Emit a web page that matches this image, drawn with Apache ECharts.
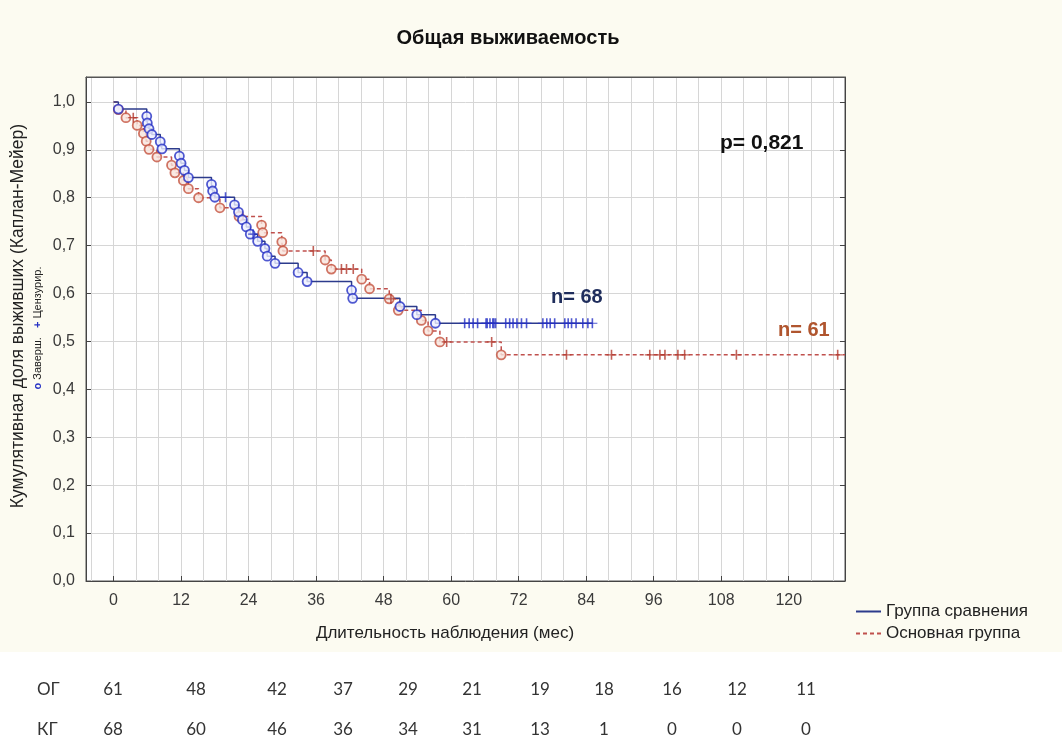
<!DOCTYPE html>
<html>
<head>
<meta charset="utf-8">
<script src="https://cdn.jsdelivr.net/npm/echarts@6/dist/echarts.min.js"></script>
<style>
  html, body { margin: 0; padding: 0; background: #ffffff; }
  #chart { width: 1062px; height: 742px; }
</style>
</head>
<body>
<div id="chart"></div>
<script>
// Kaplan–Meier overall survival, two groups (months of follow-up)

// Группа сравнения (КГ, n = 68): completed observations (month, cumulative survival after the event)
const blueEventMonths = [0.85, 5.9, 6.0, 6.3, 6.8, 8.3, 8.6, 11.7, 12.0, 12.6, 13.3, 17.4, 17.6, 18.0,
  21.5, 22.2, 22.9, 23.6, 24.3, 25.6, 26.9, 27.3, 28.7, 32.8, 34.4, 42.3, 42.5, 50.9, 53.9, 57.2];
const blueEventSurv = [0.985, 0.970, 0.956, 0.944, 0.932, 0.917, 0.902, 0.887, 0.872, 0.857, 0.842, 0.828, 0.814, 0.801,
  0.785, 0.770, 0.754, 0.739, 0.724, 0.709, 0.694, 0.678, 0.663, 0.644, 0.625, 0.607, 0.590, 0.573, 0.556, 0.538];
// censored observations (month)
const blueCensorMonths = [19.9, 24.8, 62.4, 63.2, 63.9, 64.7, 66.2, 66.4, 66.9, 67.4, 67.6, 67.9, 69.7, 70.4, 71.0,
  71.7, 72.5, 73.4, 76.3, 77.0, 77.6, 78.4, 80.2, 80.8, 81.4, 82.2, 83.4, 84.3, 85.1];
const blueFollowUpEnd = 85.1;

// Основная группа (ОГ, n = 61)
const redEventMonths = [0.85, 2.2, 4.2, 5.3, 5.8, 6.3, 7.7, 10.3, 10.9, 12.4, 13.3, 15.1, 18.9, 22.3,
  26.3, 26.5, 29.9, 30.1, 37.6, 38.7, 44.1, 45.5, 49.0, 50.6, 54.7, 55.9, 58.0, 68.9];
const redEventSurv = [0.984, 0.967, 0.951, 0.934, 0.918, 0.901, 0.885, 0.868, 0.852, 0.836, 0.819, 0.800, 0.779, 0.761,
  0.743, 0.727, 0.708, 0.689, 0.670, 0.651, 0.630, 0.610, 0.589, 0.565, 0.544, 0.522, 0.499, 0.472];
const redCensorMonths = [3.5, 35.5, 40.5, 41.4, 42.6, 49.3, 59.2, 67.2, 80.5, 88.5, 95.3, 97.1, 98.0,
  100.3, 101.5, 110.7, 128.7];
const redFollowUpEnd = 130;

// axis ticks
const monthTicks = [0, 12, 24, 36, 48, 60, 72, 84, 96, 108, 120];
const monthGrid = [-4, 0, 4, 8, 12, 16, 20, 24, 28, 32, 36, 40, 44, 48, 52, 56, 60, 64, 68, 72, 76, 80,
  84, 88, 92, 96, 100, 104, 108, 112, 116, 120, 124, 128];
const survTicks = [0, 0.1, 0.2, 0.3, 0.4, 0.5, 0.6, 0.7, 0.8, 0.9, 1.0];

// number at risk
const riskRowLabels = ['ОГ', 'КГ'];
const riskOG = [61, 48, 42, 37, 29, 21, 19, 18, 16, 12, 11];
const riskKG = [68, 60, 46, 36, 34, 31, 13, 1, 0, 0, 0];

const pValueText = 'p= 0,821';
const nBlueText = 'n= 68';
const nRedText = 'n= 61';

// ---- helpers ----
function stepCurve(months, surv, end) {
  const pts = [[0, 1]];
  for (let i = 0; i < months.length; i++) pts.push([months[i], surv[i]]);
  pts.push([end, surv[surv.length - 1]]);
  return pts;
}
function survivalAt(months, surv, t) {
  let s = 1;
  for (let i = 0; i < months.length; i++) { if (months[i] <= t) s = surv[i]; }
  return s;
}
const pairs = (a, b) => a.map((v, i) => [v, b[i]]);
const censorPoints = (cm, em, es) => cm.map(t => [t, survivalAt(em, es, t)]);

const BLUE_LINE = '#2c3b8c';
const BLUE_MARK = '#2430c4';
const RED_LINE = '#c0504d';
const RED_MARK = '#c4523f';
const PLUS = 'path://M-0.8,-5H0.8V5H-0.8Z M-5,-0.6H5V0.6H-5Z';
const AXIS_FONT = "'Liberation Sans', Arial, sans-serif";
const TABLE_FONT = "Lato, 'Liberation Sans', sans-serif";

const chart = echarts.init(document.getElementById('chart'), null, { renderer: 'canvas' });

// layout of the number-at-risk table
const riskColX = [113, 196, 277, 343, 408, 472, 540, 604, 672, 737, 806];
const riskRowY = [690, 730];

const graphics = [
  { type: 'rect', shape: { x: 0, y: 0, width: 1062, height: 652 }, style: { fill: '#fcfbf1' }, z: -10, silent: true },
  { type: 'text', z: 50, x: 508, y: 38, style: { text: 'Общая выживаемость', font: "bold 20px " + AXIS_FONT, fill: '#111', align: 'center', verticalAlign: 'middle' } },
  { type: 'text', z: 50, x: 445, y: 633, style: { text: 'Длительность наблюдения (мес)', font: "17px " + AXIS_FONT, fill: '#222', align: 'center', verticalAlign: 'middle' } },
  { type: 'text', z: 50, x: 18, y: 316, rotation: Math.PI / 2, style: { text: 'Кумулятивная доля выживших (Каплан-Мейер)', font: "17.5px " + AXIS_FONT, fill: '#222', align: 'center', verticalAlign: 'middle' } },
  { type: 'text', z: 50, x: 38, y: 328, rotation: Math.PI / 2,
    style: { text: '{m|о} Заверш.   {m|+} Цензурир.', font: "11px " + AXIS_FONT, fill: '#222', align: 'center', verticalAlign: 'middle',
      rich: { m: { fill: BLUE_MARK, font: "bold 11px " + AXIS_FONT } } } },
  { type: 'text', z: 50, x: 720, y: 143, style: { text: pValueText, font: "bold 21px " + AXIS_FONT, fill: '#111', verticalAlign: 'middle' } },
  { type: 'text', z: 50, x: 551, y: 297, style: { text: nBlueText, font: "bold 20px " + AXIS_FONT, fill: '#1f2d5c', verticalAlign: 'middle' } },
  { type: 'text', z: 50, x: 778, y: 330, style: { text: nRedText, font: "bold 20px " + AXIS_FONT, fill: '#b0552e', verticalAlign: 'middle' } }
];
[riskOG, riskKG].forEach((row, r) => {
  graphics.push({ type: 'text', z: 50, x: 37, y: riskRowY[r], style: { text: riskRowLabels[r], font: "17px " + TABLE_FONT, fill: '#333', verticalAlign: 'middle' } });
  row.forEach((v, i) => {
    graphics.push({ type: 'text', z: 50, x: riskColX[i], y: riskRowY[r], style: { text: String(v), font: "17px " + TABLE_FONT, fill: '#333', align: 'center', verticalAlign: 'middle' } });
  });
});

const fmtSurv = v => v.toFixed(1).replace('.', ',');

chart.setOption({
  backgroundColor: 'transparent',
  animation: false,
  grid: { left: 86, right: 217, top: 77, bottom: 161, show: true, backgroundColor: '#ffffff', borderColor: '#555555', borderWidth: 1, containLabel: false },
  xAxis: [
    {
      type: 'value', position: 'bottom', min: -4.9, max: 130,
      axisLine: { show: true, onZero: false, lineStyle: { color: '#444', width: 1 } },
      axisTick: { show: true, inside: true, length: 5, customValues: monthTicks, lineStyle: { color: '#444' } },
      axisLabel: { customValues: monthTicks, margin: 12, fontFamily: AXIS_FONT, fontSize: 16, color: '#3a3a3a' },
      splitLine: { show: false }
    },
    {
      type: 'value', position: 'top', min: -4.9, max: 130,
      axisLine: { show: true, onZero: false, lineStyle: { color: '#555', width: 1 } },
      axisTick: { show: false, customValues: monthGrid },
      axisLabel: { show: false },
      splitLine: { show: true, lineStyle: { color: '#d6d6d6', width: 1 } }
    }
  ],
  yAxis: [
    {
      type: 'value', position: 'left', min: 0, max: 1.052,
      axisLine: { show: true, onZero: false, lineStyle: { color: '#444', width: 1 } },
      axisTick: { show: true, inside: true, length: 5, customValues: survTicks, lineStyle: { color: '#444' } },
      axisLabel: { customValues: survTicks, formatter: fmtSurv, margin: 11, fontFamily: AXIS_FONT, fontSize: 16, color: '#3a3a3a' },
      splitLine: { show: true, lineStyle: { color: '#d6d6d6', width: 1 } }
    },
    {
      type: 'value', position: 'right', min: 0, max: 1.052,
      axisLine: { show: true, onZero: false, lineStyle: { color: '#444', width: 1 } },
      axisTick: { show: true, inside: true, length: 5, customValues: survTicks, lineStyle: { color: '#444' } },
      axisLabel: { show: false },
      splitLine: { show: false }
    }
  ],
  legend: {
    orient: 'vertical', left: 850, top: 598, itemWidth: 25, itemHeight: 10, itemGap: 5,
    itemStyle: { color: 'transparent', borderColor: 'transparent', borderWidth: 0 },
    textStyle: { fontFamily: AXIS_FONT, fontSize: 17, color: '#222' },
    data: ['Группа сравнения', 'Основная группа']
  },
  graphic: graphics,
  series: [
    {
      name: 'Группа сравнения', type: 'line', step: 'end', symbol: 'none', z: 3,
      data: stepCurve(blueEventMonths, blueEventSurv, blueFollowUpEnd),
      lineStyle: { color: BLUE_LINE, width: 1.5 }, itemStyle: { color: BLUE_LINE }
    },
    {
      name: 'Основная группа', type: 'line', step: 'end', symbol: 'none', z: 2,
      data: stepCurve(redEventMonths, redEventSurv, redFollowUpEnd),
      lineStyle: { color: RED_LINE, width: 1.5, type: [4, 3] }, itemStyle: { color: RED_LINE }
    },
    {
      name: 'red-events', type: 'scatter', symbol: 'circle', symbolSize: 9, z: 4,
      data: pairs(redEventMonths, redEventSurv),
      itemStyle: { color: '#f7e4dc', borderColor: RED_MARK, borderWidth: 1.8 }
    },
    {
      name: 'red-censored', type: 'scatter', symbol: PLUS, symbolSize: 10, z: 4,
      data: censorPoints(redCensorMonths, redEventMonths, redEventSurv),
      itemStyle: { color: '#b23a2e' }
    },
    {
      name: 'blue-events', type: 'scatter', symbol: 'circle', symbolSize: 9, z: 5,
      data: pairs(blueEventMonths, blueEventSurv),
      itemStyle: { color: '#eef0ff', borderColor: BLUE_MARK, borderWidth: 1.8 }
    },
    {
      name: 'blue-censored', type: 'scatter', symbol: PLUS, symbolSize: 10, z: 5,
      data: censorPoints(blueCensorMonths, blueEventMonths, blueEventSurv),
      itemStyle: { color: BLUE_MARK }
    }
  ]
});
</script>
</body>
</html>
